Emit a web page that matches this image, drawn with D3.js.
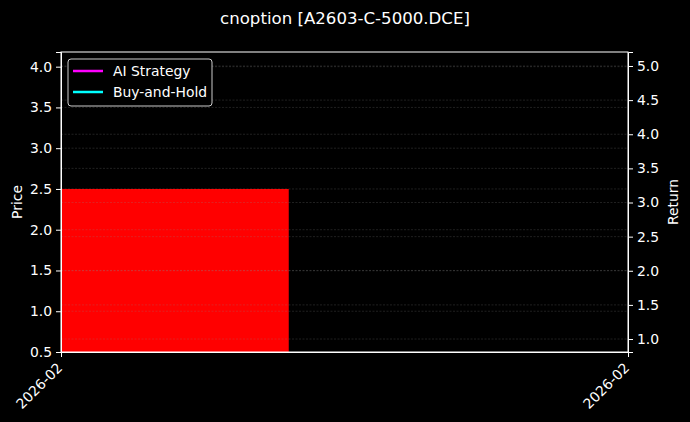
<!DOCTYPE html>
<html>
<head>
<meta charset="utf-8">
<script src="https://cdn.jsdelivr.net/npm/d3@7"></script>
<style>
  body { margin: 0; background: #000; }
  svg text { font-family: "DejaVu Sans", sans-serif; fill: #fff; }
</style>
</head>
<body>
<svg id="chart" width="690" height="422"></svg>
<script>
// data
const title = "cnoption [A2603-C-5000.DCE]";
const xDomain = ["2026-02-02 00:00", "2026-02-27 00:00"];
const barStart = ["2026-02-02 00:00"];
const barEnd = ["2026-02-12 01:00"];
const barPrice = [2.5];
const priceDomain = [0.5, 4.18];
const returnDomain = [0.81, 5.205];
const priceTicks = [0.5, 1.0, 1.5, 2.0, 2.5, 3.0, 3.5, 4.0];
const returnTicks = [1.0, 1.5, 2.0, 2.5, 3.0, 3.5, 4.0, 4.5, 5.0];
const legendItems = [
    {label: "AI Strategy", color: "#ff00ff"},
    {label: "Buy-and-Hold", color: "#00ffff"}
];

const svg = d3.select("#chart");
const margin = {top: 52, right: 62, bottom: 70, left: 61};
const width = 690 - margin.left - margin.right;
const height = 422 - margin.top - margin.bottom;
const parse = d3.timeParse("%Y-%m-%d %H:%M");
const fs = "13.9px";

svg.append("rect").attr("width", 690).attr("height", 422).attr("fill", "#000");

svg.append("text")
    .attr("x", 345).attr("y", 24)
    .attr("text-anchor", "middle")
    .style("font-size", "16.6px")
    .text(title);

const g = svg.append("g").attr("transform", "translate(" + margin.left + "," + margin.top + ")");

const x = d3.scaleTime().domain(xDomain.map(parse)).range([0, width]);
const yL = d3.scaleLinear().domain(priceDomain).range([height, 0]);
const yR = d3.scaleLinear().domain(returnDomain).range([height, 0]);

// bar
g.selectAll("rect.bar")
    .data(barPrice)
    .enter().append("rect")
        .attr("class", "bar")
        .attr("x", (d, i) => x(parse(barStart[i])))
        .attr("width", (d, i) => x(parse(barEnd[i])) - x(parse(barStart[i])))
        .attr("y", d => yL(d))
        .attr("height", d => height - yL(d))
        .attr("fill", "#ff0000");

// grid lines for both axes
function grid(scale, ticks) {
    g.append("g")
        .selectAll("line")
        .data(ticks)
        .enter().append("line")
            .attr("x1", 0).attr("x2", width)
            .attr("y1", d => scale(d)).attr("y2", d => scale(d))
            .attr("stroke", "#888")
            .attr("stroke-opacity", 0.4)
            .attr("stroke-width", 0.6)
            .attr("stroke-dasharray", "2,1.5");
}
grid(yL, priceTicks.filter(d => d > priceDomain[0]));
grid(yR, returnTicks);

// axes
function styleAxis(sel) {
    sel.selectAll("path, line").attr("stroke", "#fff");
    sel.selectAll("text").attr("fill", "#fff").style("font-size", fs)
        .style("font-family", "DejaVu Sans, sans-serif");
}

g.append("g")
    .call(d3.axisLeft(yL).tickValues(priceTicks).tickFormat(d3.format(".1f")).tickSizeOuter(0).tickSize(5).tickPadding(4))
    .call(styleAxis);

g.append("g")
    .attr("transform", "translate(" + width + ",0)")
    .call(d3.axisRight(yR).tickValues(returnTicks).tickFormat(d3.format(".1f")).tickSizeOuter(0).tickSize(5).tickPadding(4))
    .call(styleAxis);

const xAxis = g.append("g")
    .attr("transform", "translate(0," + height + ")")
    .call(d3.axisBottom(x).tickValues(xDomain.map(parse)).tickFormat(d3.timeFormat("%Y-%m")).tickSizeOuter(0).tickSize(5))
    .call(styleAxis);
xAxis.selectAll("text")
    .attr("text-anchor", "end")
    .attr("dx", 0).attr("dy", 0)
    .attr("transform", "translate(-4,11) rotate(-45)");

// frame
g.append("rect")
    .attr("width", width).attr("height", height)
    .attr("fill", "none").attr("stroke", "#fff").attr("stroke-width", 1);

// axis labels
svg.append("text")
    .attr("transform", "translate(22," + (margin.top + height / 2) + ") rotate(-90)")
    .attr("text-anchor", "middle")
    .style("font-size", fs)
    .text("Price");
svg.append("text")
    .attr("transform", "translate(678," + (margin.top + height / 2) + ") rotate(-90)")
    .attr("text-anchor", "middle")
    .style("font-size", fs)
    .text("Return");

// legend
const legend = g.append("g").attr("transform", "translate(7,7)");
legend.append("rect")
    .attr("width", 144).attr("height", 47)
    .attr("rx", 3)
    .attr("fill", "#000").attr("stroke", "#ccc").attr("stroke-width", 1);
const item = legend.selectAll("g.item")
    .data(legendItems)
    .enter().append("g")
        .attr("class", "item")
        .attr("transform", (d, i) => "translate(0," + (12 + i * 21) + ")");
item.append("line")
    .attr("x1", 5).attr("x2", 35)
    .attr("stroke", d => d.color).attr("stroke-width", 2.5);
item.append("text")
    .attr("x", 45).attr("y", 5)
    .style("font-size", fs)
    .text(d => d.label);
</script>
</body>
</html>
